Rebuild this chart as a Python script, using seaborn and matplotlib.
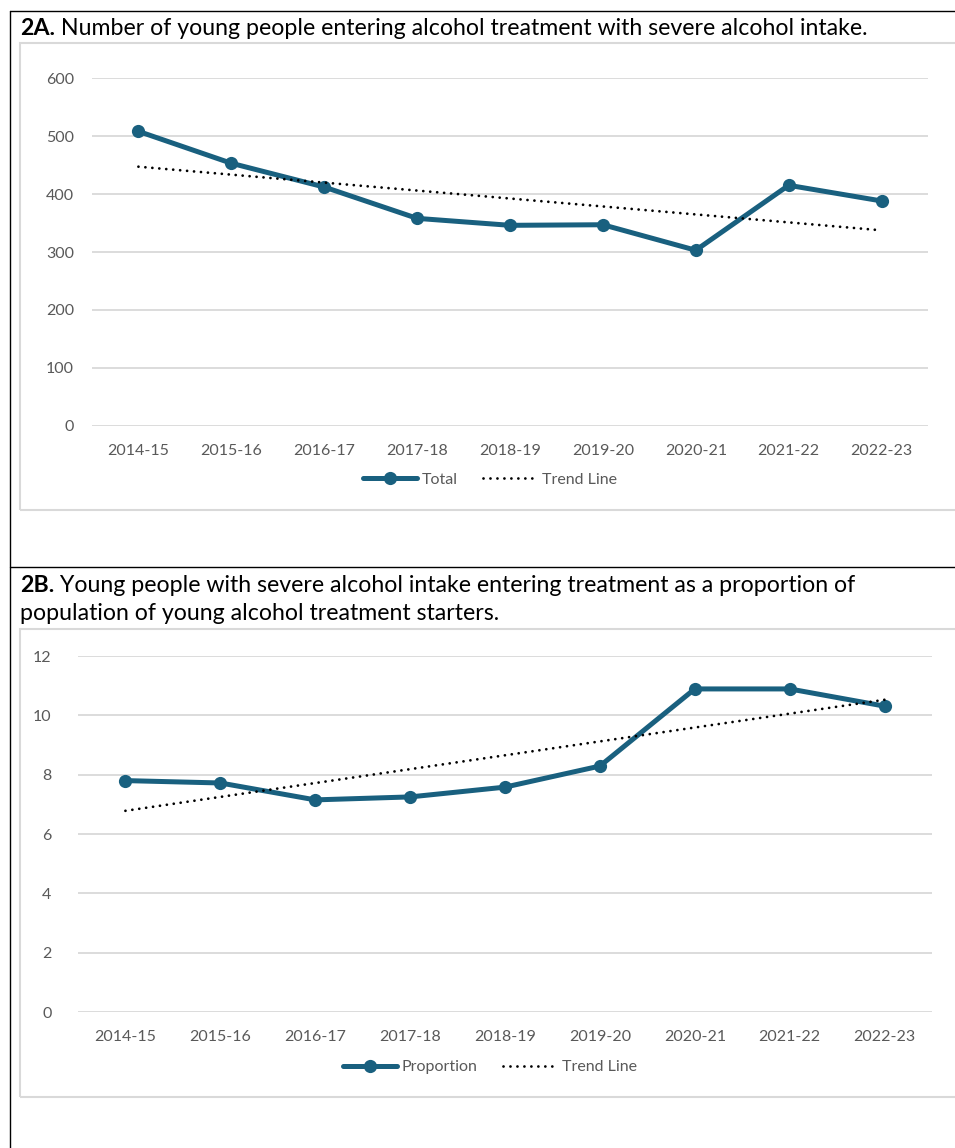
import numpy as np
import pandas as pd
import matplotlib
matplotlib.use("Agg")
import matplotlib.pyplot as plt
from matplotlib.lines import Line2D
from matplotlib.patches import Rectangle
import seaborn as sns

# ---- data ----
years = ["2014-15", "2015-16", "2016-17", "2017-18", "2018-19",
         "2019-20", "2020-21", "2021-22", "2022-23"]
total = [508, 453, 412, 358, 346, 347, 303, 415, 388]
proportion = [7.8, 7.72, 7.15, 7.25, 7.58, 8.29, 10.89, 10.89, 10.31]

title_a_bold = "2A."
title_a = " Number of young people entering alcohol treatment with severe alcohol intake."
title_b_bold = "2B."
title_b1 = " Young people with severe alcohol intake entering treatment as a proportion of"
title_b2 = "population of young alcohol treatment starters."

yticks_a = [0, 100, 200, 300, 400, 500, 600]
yticks_b = [0, 2, 4, 6, 8, 10, 12]

LINE = "#19607f"
GRID = "#d9d9d9"
TICK = "#595959"
FONT = "Lato"
DOTS = (0, (0.01, 2.5))

sns.set_theme(style="white")
plt.rcParams["font.family"] = [FONT, "DejaVu Sans"]

W, H = 955, 1148
fig = plt.figure(figsize=(W / 100, H / 100), dpi=100)


def fx(px):
    return px / W


def fy(py):
    return 1 - py / H


# table borders
for (x0, y0, x1, y1) in [(10, 11, 955, 11), (10, 567, 955, 567), (10, 11, 10, 1148)]:
    fig.add_artist(Line2D([fx(x0), fx(x1)], [fy(y0), fy(y1)], color="black", lw=1.0,
                          transform=fig.transFigure))

# chart boxes
for (x0, y0, y1) in [(20, 43, 510), (20, 629, 1097)]:
    fig.add_artist(Rectangle((fx(x0), fy(y1)), fx(960 - x0), fy(y0) - fy(y1),
                             transform=fig.transFigure, fill=False,
                             edgecolor=GRID, lw=1.5))


def panel(rect, values, yticks, label, legend_y, ypad, xpad):
    ax = fig.add_axes(rect)
    df = pd.DataFrame({"x": np.arange(len(years)), "y": values})
    sns.lineplot(data=df, x="x", y="y", ax=ax, color=LINE, lw=3.6, marker="o",
                 markersize=9.5, markeredgewidth=0, zorder=3)
    coef = np.polyfit(df["x"], df["y"], 1)
    trend = np.polyval(coef, df["x"])
    ax.plot(df["x"], trend, color="black", lw=2.0, linestyle=DOTS,
            dash_capstyle="round", zorder=4)
    ax.set_xlim(-0.5, len(years) - 0.5)
    ax.set_ylim(yticks[0], yticks[-1])
    ax.set_yticks(yticks)
    ax.set_xticks(np.arange(len(years)))
    ax.set_xticklabels(years)
    ax.set_xlabel("")
    ax.set_ylabel("")
    ax.grid(axis="y", color=GRID, lw=1.3)
    ax.grid(axis="x", visible=False)
    for s in ax.spines.values():
        s.set_visible(False)
    ax.tick_params(axis="y", length=0, pad=ypad, labelsize=11.5, labelcolor=TICK)
    ax.tick_params(axis="x", length=0, pad=xpad, labelsize=11.5, labelcolor=TICK)
    handles = [Line2D([], [], color=LINE, lw=3.6, marker="o", markersize=9.5,
                      markeredgewidth=0),
               Line2D([], [], color="black", lw=2.0, linestyle=DOTS,
                      dash_capstyle="round")]
    fig.legend(handles, [label, "Trend Line"], loc="center",
               bbox_to_anchor=(fx(490), fy(legend_y)), ncol=2, frameon=False,
               fontsize=11.5, labelcolor=TICK, handlelength=3.4, columnspacing=1.6,
               handletextpad=0.3)
    return ax


panel([fx(92), fy(426), fx(928 - 92), fy(78) - fy(426)], total, yticks_a,
      "Total", 480, 13, 13)
panel([fx(78), fy(1012), fx(932 - 78), fy(656) - fy(1012)], proportion, yticks_b,
      "Proportion", 1067, 19, 13)

# titles
renderer = fig.canvas.get_renderer()
TSIZE = 16.7


def rich_title(x, y, bold, rest, size=TSIZE):
    t = fig.text(fx(x), fy(y), bold, fontsize=size, fontweight="bold", va="baseline",
                 ha="left", color="black")
    bb = t.get_window_extent(renderer=renderer)
    fig.text(bb.x1 / W, fy(y), rest, fontsize=size, va="baseline", ha="left",
             color="black")


rich_title(20, 35, title_a_bold, title_a)
rich_title(20, 592, title_b_bold, title_b1)
fig.text(fx(20), fy(620), title_b2, fontsize=TSIZE, va="baseline", ha="left",
         color="black")

fig.savefig("out.png", dpi=100)
